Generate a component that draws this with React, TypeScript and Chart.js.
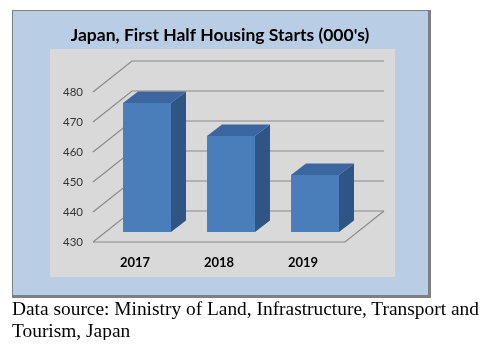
import { useEffect, useRef } from 'react';
import { Chart, registerables } from 'chart.js';

Chart.register(...registerables);

// ---- data ----
const categories = ['2017', '2018', '2019'];
const housingStarts = [473, 462, 449];
const yMin = 430;
const yMax = 480;
const yStep = 10;
const chartTitle = "Japan, First Half Housing Starts (000's)";
const captionLine1 = 'Data source: Ministry of Land, Infrastructure, Transport and';
const captionLine2 = 'Tourism, Japan';

// ---- styling / geometry ----
const W = 420;
const H = 290;
const BACK = { x: 39, y: -31 };
const BAR_SHIFT = { x: 12, y: -10 };
const BAR_DEPTH = { x: 15, y: -11.5 };
const GRID_COLOR = '#8a8a8a';

const frame3d = {
  id: 'frame3d',
  beforeDraw(chart: any) {
    const { ctx, chartArea: a } = chart;
    const yScale = chart.scales.y;
    ctx.save();
    // outer box with shadow
    ctx.fillStyle = '#7f7f7f';
    ctx.fillRect(0, 0, 419, 288);
    ctx.fillStyle = '#b9cde5';
    ctx.fillRect(1, 1, 415, 284);
    // plot area
    ctx.fillStyle = '#d9d9d9';
    ctx.fillRect(38, 39, 345, 228);

    ctx.strokeStyle = GRID_COLOR;
    ctx.lineWidth = 1.2;
    const ticks = yScale.ticks;
    ticks.forEach((t: any) => {
      const y = yScale.getPixelForValue(t.value);
      ctx.beginPath();
      ctx.moveTo(a.left, y);
      ctx.lineTo(a.left + BACK.x, y + BACK.y);
      ctx.lineTo(a.right + BACK.x, y + BACK.y);
      ctx.stroke();
    });
    // floor
    const yb = yScale.getPixelForValue(yMin);
    ctx.beginPath();
    ctx.moveTo(a.left, yb);
    ctx.lineTo(a.right, yb);
    ctx.lineTo(a.right + BACK.x, yb + BACK.y);
    ctx.stroke();
    ctx.restore();
  },
  beforeDatasetsDraw(chart: any) {
    chart.ctx.save();
    chart.ctx.translate(BAR_SHIFT.x, BAR_SHIFT.y);
  },
  afterDatasetsDraw(chart: any) {
    const ctx = chart.ctx;
    const meta = chart.getDatasetMeta(0);
    meta.data.forEach((el: any) => {
      const { x, y, base, width } = el.getProps(['x', 'y', 'base', 'width'], true);
      const l = x - width / 2;
      const r = x + width / 2;
      // side face
      ctx.fillStyle = '#2f5584';
      ctx.beginPath();
      ctx.moveTo(r, y);
      ctx.lineTo(r + BAR_DEPTH.x, y + BAR_DEPTH.y);
      ctx.lineTo(r + BAR_DEPTH.x, base + BAR_DEPTH.y);
      ctx.lineTo(r, base);
      ctx.closePath();
      ctx.fill();
      // top face
      ctx.fillStyle = '#3b669f';
      ctx.beginPath();
      ctx.moveTo(l, y);
      ctx.lineTo(l + BAR_DEPTH.x, y + BAR_DEPTH.y);
      ctx.lineTo(r + BAR_DEPTH.x, y + BAR_DEPTH.y);
      ctx.lineTo(r, y);
      ctx.closePath();
      ctx.fill();
    });
    ctx.restore();
  },
};

export default function App() {
  const canvasRef = useRef<HTMLCanvasElement | null>(null);

  useEffect(() => {
    if (!canvasRef.current) return;
    const chart = new Chart(canvasRef.current, {
      type: 'bar',
      data: {
        labels: categories,
        datasets: [
          {
            data: housingStarts,
            base: yMin,
            backgroundColor: '#4a7ebb',
            borderWidth: 0,
            barPercentage: 0.571,
            categoryPercentage: 1,
            clip: false as any,
          } as any,
        ],
      },
      options: {
        animation: false,
        responsive: false,
        devicePixelRatio: 1,
        layout: { padding: { left: 0, right: 4, top: 0, bottom: 0 } },
        plugins: {
          legend: { display: false },
          tooltip: { enabled: false },
          title: {
            display: true,
            text: chartTitle,
            color: '#000000',
            font: { family: 'Lato', weight: 'bold', size: 17.5, lineHeight: 1.2 },
            padding: { top: 14.5, bottom: 46.5 },
          },
        },
        scales: {
          x: {
            type: 'category',
            grid: { display: false, drawTicks: false },
            border: { display: false },
            ticks: {
              color: '#000000',
              font: { family: 'Lato', weight: 'bold', size: 13 },
              padding: 13,
            },
            afterFit: (s: any) => {
              s.height = 58;
            },
          },
          y: {
            type: 'linear',
            min: yMin,
            max: yMax,
            grid: { display: false, drawTicks: false },
            border: { display: false },
            ticks: {
              stepSize: yStep,
              color: '#333333',
              font: { family: 'Lato', size: 11.5 },
              padding: 10,
            },
            afterFit: (s: any) => {
              s.width = 81;
            },
          },
          y2: {
            type: 'linear',
            position: 'right',
            display: true,
            min: yMin,
            max: yMax,
            grid: { display: false, drawTicks: false },
            border: { display: false },
            ticks: { display: false },
            afterFit: (s: any) => {
              s.width = 83;
            },
          },
        },
      },
      plugins: [frame3d],
    });
    return () => chart.destroy();
  }, []);

  return (
    <div style={{ position: 'relative', width: 473, height: 332 }}>
      <canvas
        ref={canvasRef}
        width={W}
        height={H}
        style={{ position: 'absolute', left: 4, top: 2, width: W, height: H }}
      />
      <div
        style={{
          position: 'absolute',
          left: 4,
          top: 290,
          fontFamily: '"Liberation Serif", "Times New Roman", serif',
          fontSize: '19.4px',
          lineHeight: '22px',
          color: '#000',
          whiteSpace: 'nowrap',
        }}
      >
        {captionLine1}
        <br />
        {captionLine2}
      </div>
    </div>
  );
}
